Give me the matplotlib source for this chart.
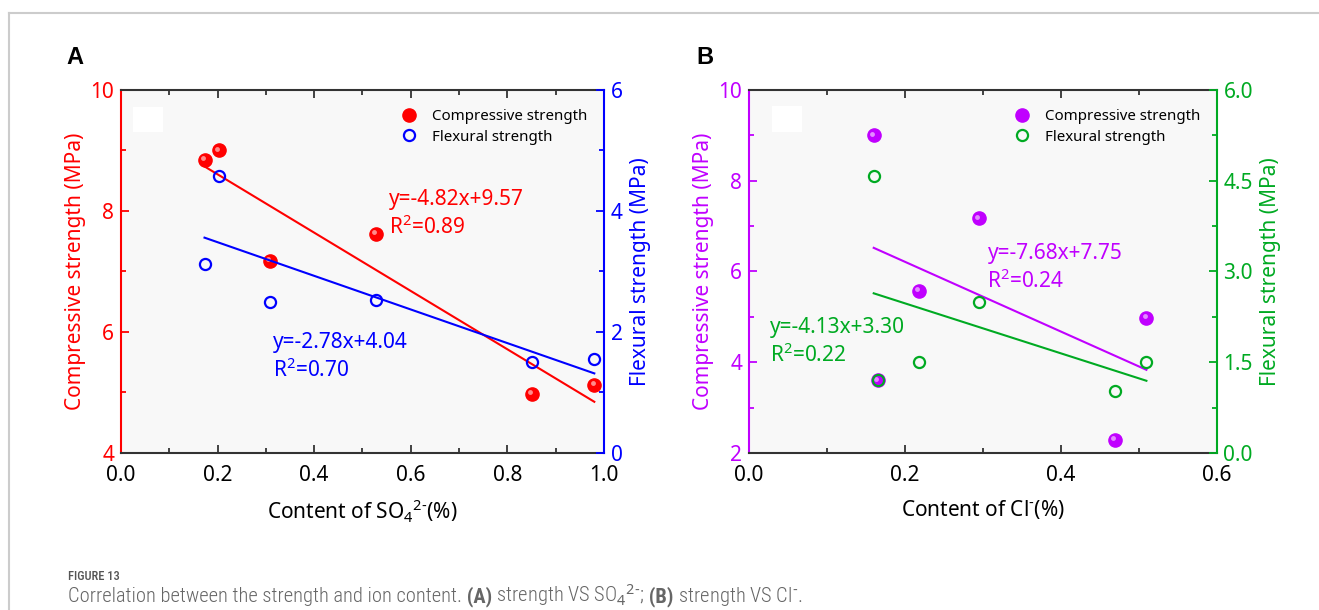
import matplotlib
matplotlib.use("Agg")
import matplotlib.pyplot as plt
import matplotlib.transforms as mtransforms
from matplotlib.lines import Line2D
from matplotlib.patches import Rectangle
from matplotlib.ticker import MultipleLocator, FormatStrFormatter

plt.rcParams['font.family'] = ['Noto Sans', 'DejaVu Sans']
plt.rcParams['mathtext.fontset'] = 'custom'
plt.rcParams['mathtext.rm'] = 'Noto Sans'
plt.rcParams['mathtext.it'] = 'Noto Sans:italic'

# ---- panel A data (SO4 2-) ----
so4_x_comp = [0.173, 0.203, 0.308, 0.527, 0.850, 0.980]
so4_comp = [8.85, 9.00, 7.17, 7.62, 4.97, 5.12]
so4_x_flex = [0.173, 0.203, 0.308, 0.527, 0.850, 0.980]
so4_flex = [3.12, 4.58, 2.50, 2.53, 1.50, 1.55]
so4_fit_comp = [-4.82, 9.57]
so4_fit_flex = [-2.78, 4.04]

# ---- panel B data (Cl-) ----
cl_x_comp = [0.160, 0.165, 0.218, 0.295, 0.470, 0.510]
cl_comp = [9.00, 3.60, 5.57, 7.17, 2.28, 4.98]
cl_x_flex = [0.160, 0.165, 0.218, 0.295, 0.470, 0.510]
cl_flex = [4.58, 1.20, 1.50, 2.50, 1.03, 1.50]
cl_fit_comp = [-7.68, 7.75]
cl_fit_flex = [-4.13, 3.30]

fig = plt.figure(figsize=(13.19, 6.10), dpi=100)

# page frame lines
fig.add_artist(Line2D([9/1319, 1], [1 - 13/610, 1 - 13/610], color='#cccccc', lw=1.5))
fig.add_artist(Line2D([9/1319, 9/1319], [0, 1 - 13/610], color='#cccccc', lw=1.5))


def line_pts(x, fit):
    xs = [min(x), max(x)]
    return xs, [fit[0] * v + fit[1] for v in xs]


def make_panel(rect, xlim, xmaj, ylim, ymaj, y2lim, y2maj, c1, c2,
               xc, yc, xf, yf, fitc, fitf, xlabel, letter,
               eq1, eq1_pos, eq2, eq2_pos, y2fmt, box):
    ax = fig.add_axes(rect)
    ax.set_facecolor('#f8f8f8')
    ax2 = ax.twinx()

    ax.set_xlim(*xlim)
    ax.set_ylim(*ylim)
    ax2.set_ylim(*y2lim)

    # compressive strength: shaded balls
    ax.plot(xc, yc, 'o', ms=9.5, color=c1, mec=c1, zorder=4)
    hl = mtransforms.offset_copy(ax.transData, fig=fig, x=-1.3, y=1.3, units='points')
    ax.plot(xc, yc, 'o', ms=3.5, color='white', alpha=0.55, mec='none',
            transform=hl, zorder=5)
    lx, ly = line_pts(xc, fitc)
    ax.plot(lx, ly, '-', color=c1, lw=1.5, zorder=3)

    # flexural strength: open circles on right axis
    ax2.plot(xf, yf, 'o', ms=8, mfc='none', mec=c2, mew=1.6, zorder=4)
    lx, ly = line_pts(xf, fitf)
    ax2.plot(lx, ly, '-', color=c2, lw=1.5, zorder=3)

    ax.add_patch(Rectangle(box[:2], box[2], box[3], transform=ax.transAxes,
                           facecolor='white', edgecolor='none', zorder=2))

    for a in (ax, ax2):
        for s in a.spines.values():
            s.set_linewidth(1.5)
    ax.spines['top'].set_color('#333333')
    ax.spines['bottom'].set_color('#333333')
    ax.spines['left'].set_color(c1)
    ax2.spines['right'].set_color(c2)
    ax2.spines['left'].set_visible(False)
    ax2.spines['top'].set_visible(False)
    ax2.spines['bottom'].set_visible(False)
    ax.spines['right'].set_visible(False)

    ax.xaxis.set_major_locator(MultipleLocator(xmaj))
    ax.xaxis.set_minor_locator(MultipleLocator(xmaj / 2))
    ax.yaxis.set_major_locator(MultipleLocator(ymaj))
    ax.yaxis.set_minor_locator(MultipleLocator(ymaj / 2))
    ax2.yaxis.set_major_locator(MultipleLocator(y2maj))
    ax2.yaxis.set_minor_locator(MultipleLocator(y2maj / 2))
    ax.xaxis.set_major_formatter(FormatStrFormatter('%.1f'))
    ax2.yaxis.set_major_formatter(FormatStrFormatter(y2fmt))

    ax.tick_params(axis='x', which='both', direction='in', top=True, colors='#333333',
                   labelcolor='black', labelsize=15, pad=9)
    ax.tick_params(axis='x', which='major', length=6, width=1.3)
    ax.tick_params(axis='x', which='minor', length=3.5, width=1.3)
    ax.tick_params(axis='y', which='both', direction='in', colors=c1, labelsize=15, pad=5)
    ax.tick_params(axis='y', which='major', length=6, width=1.3)
    ax.tick_params(axis='y', which='minor', length=3.5, width=1.3)
    ax2.tick_params(axis='y', which='both', direction='in', colors=c2, labelsize=15, pad=5)
    ax2.tick_params(axis='y', which='major', length=6, width=1.3)
    ax2.tick_params(axis='y', which='minor', length=3.5, width=1.3)

    ax.set_ylabel('Compressive strength (MPa)', color=c1, fontsize=15, labelpad=3)
    ax2.set_ylabel('Flexural strength (MPa)', color=c2, fontsize=15, labelpad=5)
    ax.set_xlabel(xlabel, fontsize=15, labelpad=8)

    ax.text(eq1_pos[0], eq1_pos[1], eq1, transform=ax.transAxes, color=c1,
            fontsize=15, va='top', linespacing=1.3)
    ax.text(eq2_pos[0], eq2_pos[1], eq2, transform=ax.transAxes, color=c2,
            fontsize=15, va='top', linespacing=1.3)

    handles = [
        Line2D([], [], ls='none', marker='o', ms=9.5, color=c1, mec=c1),
        Line2D([], [], ls='none', marker='o', ms=8, mfc='none', mec=c2, mew=1.6),
    ]
    ax2.legend(handles, ['Compressive strength', 'Flexural strength'],
               loc='upper right', bbox_to_anchor=(0.994, 0.985), frameon=False,
               fontsize=10.8, handletextpad=0.75, labelspacing=0.38, handlelength=1.6)

    ax.text(-0.113, 1.057, letter, transform=ax.transAxes, fontsize=17,
            fontweight='bold', va='bottom', ha='left',
            family=['Liberation Sans', 'DejaVu Sans'])
    return ax


make_panel([0.0917, 0.2574, 0.3662, 0.5951], (0, 1.0), 0.2, (4, 10), 2, (0, 6), 2,
           '#ff0000', '#0000ff',
           so4_x_comp, so4_comp, so4_x_flex, so4_flex, so4_fit_comp, so4_fit_flex,
           r'Content of SO$_4$$^{2\text{-}}$(%)', 'A',
           'y=-4.82x+9.57\nR$^2$=0.89', (0.555, 0.728),
           'y=-2.78x+4.04\nR$^2$=0.70', (0.315, 0.333), '%d',
           (0.025, 0.884, 0.062, 0.069))

make_panel([0.5679, 0.2574, 0.3544, 0.5951], (0, 0.6), 0.2, (2, 10), 2, (0, 6), 1.5,
           '#c000ff', '#00aa22',
           cl_x_comp, cl_comp, cl_x_flex, cl_flex, cl_fit_comp, cl_fit_flex,
           r'Content of Cl$^{\text{-}}$(%)', 'B',
           'y=-7.68x+7.75\nR$^2$=0.24', (0.51, 0.578),
           'y=-4.13x+3.30\nR$^2$=0.22', (0.045, 0.374), '%.1f',
           (0.049, 0.884, 0.064, 0.072))

# caption: pieces laid side by side on one baseline
cap_font = ['Roboto Condensed', 'Roboto', 'Noto Sans']
fig.text(68/1319, 1 - 580/610, 'FIGURE 13', fontsize=9, color='#555555',
         family=cap_font, fontweight='medium', va='baseline')
pieces = [
    ('Correlation between the strength and ion content.', 'light'),
    (' (A)', 'bold'),
    (r' strength VS SO$_4$$^{2\text{-}}$;', 'light'),
    (' (B)', 'bold'),
    (r' strength VS Cl$^{\text{-}}$.', 'light'),
]
renderer = fig.canvas.get_renderer()
x0 = 68
for txt, w in pieces:
    t = fig.text(x0 / 1319, 1 - 602/610, txt, fontsize=14.8, color='#666666',
                 family=cap_font, fontweight=w, va='baseline', ha='left')
    x0 = t.get_window_extent(renderer).x1

fig.savefig('out.png', dpi=100)
